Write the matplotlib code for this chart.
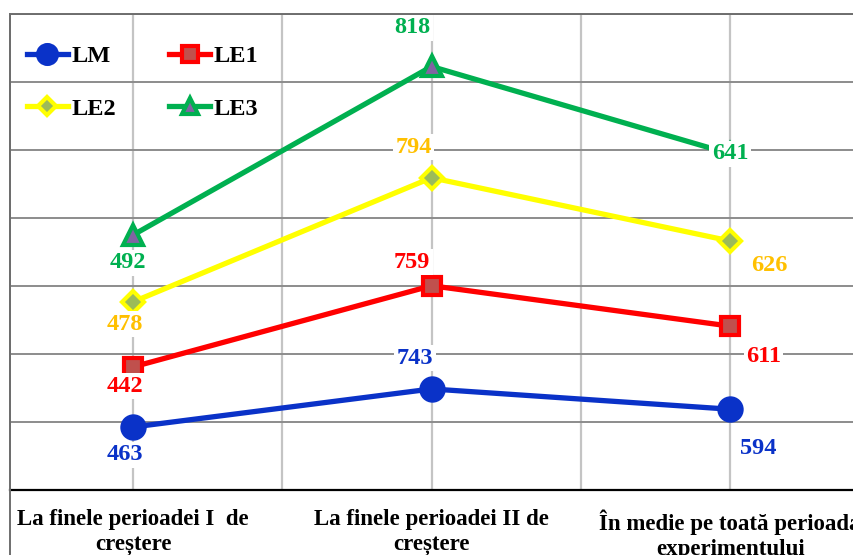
import matplotlib
matplotlib.use("Agg")
import matplotlib.pyplot as plt
from matplotlib.lines import Line2D
import numpy as np

# date
categorii = ["La finele perioadei I  de\ncreștere",
             "La finele perioadei II de\ncreștere",
             "În medie pe toată perioada\nexperimentului"]
serii = ["LM", "LE1", "LE2", "LE3"]
lm = [463, 743, 594]
le1 = [442, 759, 611]
le2 = [478, 794, 626]
le3 = [492, 818, 641]

valori = [lm, le1, le2, le3]
culori_linie = ["#0a32c8", "#ff0000", "#ffff00", "#00b050"]
culori_umplere = ["#0a32c8", "#c0504d", "#9bbb59", "#8064a2"]
culori_eticheta = ["#0a32c8", "#ff0000", "#ffc000", "#00b050"]
markere = ["o", "s", "D", "^"]
marimi = [16, 13, 11, 14]

# deplasari etichete (puncte) pentru fiecare serie si categorie
depl = [
    [(-6, -20), (-12, 22), (20, -28)],
    [(-6, -14), (-14, 17), (24, -22)],
    [(-6, -16), (-13, 22), (28, -18)],
    [(-4, -20), (-14, 28), (0, 0)],
]

plt.rcParams["font.family"] = ["Liberation Serif", "DejaVu Serif"]
plt.rcParams["font.weight"] = "bold"

fig = plt.figure(figsize=(8.54, 5.55), dpi=100)
ax = fig.add_axes([10 / 854, 65 / 555, 1 - 10 / 854, 476 / 555])

x = np.arange(len(categorii))
baza = np.zeros(len(categorii))
handles = []
for i, (nume, v) in enumerate(zip(serii, valori)):
    cumul = baza + np.array(v)
    h, = ax.plot(x, cumul, color=culori_linie[i], lw=3.8, marker=markere[i],
                 ms=marimi[i], mfc=culori_umplere[i], mec=culori_linie[i],
                 mew=3, zorder=3, label=nume, clip_on=False)
    handles.append(h)
    for j in range(len(x)):
        dx, dy = depl[i][j]
        ax.annotate(str(v[j]), (x[j], cumul[j]), xytext=(dx, dy),
                    textcoords="offset points", ha="center", va="center",
                    fontsize=17.5, fontweight="bold", color=culori_eticheta[i],
                    bbox=dict(boxstyle="square,pad=0.1", fc="white", ec="none"),
                    zorder=5)
    baza = cumul

ax.set_xlim(-0.412, 2.415)
ax.set_ylim(0, 3500)
ax.set_yticks(np.arange(0, 3501, 500))
ax.set_yticklabels([])
ax.tick_params(left=False, bottom=False, labelbottom=False)
ax.grid(axis="y", color="#8c8c8c", lw=1.4, zorder=0)
for xv in [0, 0.5, 1, 1.5, 2]:
    ax.axvline(xv, color="#c4c4c4", lw=1.6, zorder=0)
ax.spines["right"].set_visible(False)
ax.spines["top"].set_color("#6e6e6e")
ax.spines["top"].set_linewidth(1.4)
ax.spines["left"].set_color("#6e6e6e")
ax.spines["left"].set_linewidth(1.4)
ax.spines["bottom"].set_color("black")
ax.spines["bottom"].set_linewidth(1.6)

# cadru exterior stanga
fig.add_artist(Line2D([10.5 / 854, 10.5 / 854], [0, 1 - 14 / 555],
                      color="#6e6e6e", lw=1.4, transform=fig.transFigure))

for j, c in enumerate(categorii):
    ax.text(x[j], -140, c, ha="center", va="top", fontsize=16.5,
            fontweight="bold", linespacing=1.3, clip_on=False)

ordine = [0, 2, 1, 3]
leg = ax.legend([handles[k] for k in ordine], [serii[k] for k in ordine],
                ncol=2, loc="upper left", bbox_to_anchor=(-0.006, 0.98),
                frameon=False, fontsize=17.5, handlelength=1.7,
                labelspacing=1.25, columnspacing=2.2, handletextpad=0.12,
                markerscale=0.85)
for t in leg.get_texts():
    t.set_fontweight("bold")

fig.savefig("out.png", dpi=100)
